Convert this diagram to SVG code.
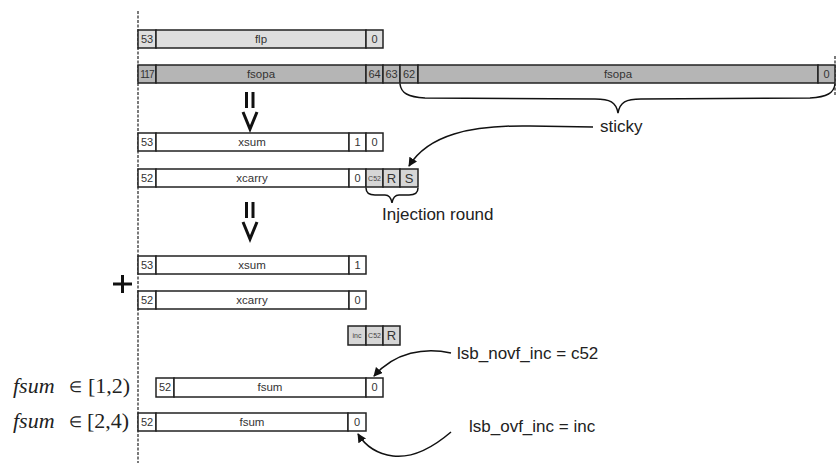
<svg xmlns="http://www.w3.org/2000/svg" width="837" height="463" viewBox="0 0 837 463">
<style>
.c{stroke:#222;stroke-width:1.5}
.w{fill:#fff}
.l{fill:#dedede}
.d{fill:#b5b5b5}
.g{fill:#d6d6d6}
.t{font-family:"Liberation Sans",Arial,sans-serif;font-size:11.5px;fill:#333;text-anchor:middle}
.n{font-family:"Liberation Sans",Arial,sans-serif;font-size:11px;fill:#333;text-anchor:middle}
.s{font-family:"Liberation Sans",Arial,sans-serif;font-size:7px;fill:#444;text-anchor:middle}
.b{font-family:"Liberation Sans",Arial,sans-serif;font-size:13px;fill:#333;text-anchor:middle}
.lab{font-family:"Liberation Sans",Arial,sans-serif;font-size:17px;fill:#222}
.m{font-family:"Liberation Serif","Times New Roman",serif;font-size:22px;fill:#222}
.ln{fill:none;stroke:#111;stroke-width:1.5}
.dash{fill:none;stroke:#333;stroke-width:1.3;stroke-dasharray:3 1.5}
</style>
<defs>
<marker id="ah" viewBox="0 0 10 10" refX="9" refY="5" markerWidth="9" markerHeight="9" markerUnits="userSpaceOnUse" orient="auto">
<path d="M0,0 L10,5 L0,10 z" fill="#111"/>
</marker>
</defs>

<g id="axes">
<line class="dash" x1="138" y1="11" x2="138" y2="463"/>
<line class="dash" x1="835" y1="56" x2="835" y2="95"/>
</g>

<g id="flp">
<rect class="c l" x="138" y="30" width="18" height="18"/>
<rect class="c l" x="156" y="30" width="210" height="18"/>
<rect class="c l" x="366" y="30" width="17" height="18"/>
<text class="n" x="147" y="43">53</text>
<text class="t" x="261" y="43">flp</text>
<text class="n" x="374.5" y="43">0</text>
</g>

<g id="fsopa">
<rect class="c d" x="138" y="65" width="18" height="18"/>
<rect class="c d" x="156" y="65" width="210" height="18"/>
<rect class="c d" x="366" y="65" width="17" height="18"/>
<rect class="c d" x="383" y="65" width="17" height="18"/>
<rect class="c d" x="400" y="65" width="18" height="18"/>
<rect class="c d" x="418" y="65" width="400" height="18"/>
<rect class="c d" x="818" y="65" width="17" height="18"/>
<text class="n" x="147" y="78" style="letter-spacing:-0.8px;font-size:10px">117</text>
<text class="t" x="261" y="78">fsopa</text>
<text class="n" x="374.5" y="78">64</text>
<text class="n" x="391.5" y="78">63</text>
<text class="n" x="409" y="78">62</text>
<text class="t" x="618" y="78">fsopa</text>
<text class="n" x="826.5" y="78">0</text>
</g>

<g id="implies1">
<line x1="246.5" y1="92" x2="246.5" y2="108" stroke="#111" stroke-width="3"/>
<line x1="253" y1="92" x2="253" y2="108" stroke="#111" stroke-width="3"/>
<polyline points="243,112 250,129 257,112" fill="none" stroke="#111" stroke-width="3"/>
</g>

<g id="xsum1">
<rect class="c w" x="138" y="133" width="18" height="18"/>
<rect class="c w" x="156" y="133" width="193" height="18"/>
<rect class="c w" x="349" y="133" width="17" height="18"/>
<rect class="c w" x="366" y="133" width="17" height="18"/>
<text class="n" x="147" y="146">53</text>
<text class="t" x="252" y="146">xsum</text>
<text class="n" x="357.5" y="146">1</text>
<text class="n" x="374.5" y="146">0</text>
</g>

<g id="xcarry1">
<rect class="c w" x="138" y="169" width="18" height="18"/>
<rect class="c w" x="156" y="169" width="193" height="18"/>
<rect class="c w" x="349" y="169" width="17" height="18"/>
<rect class="c g" x="366" y="169" width="17" height="18"/>
<rect class="c g" x="383" y="169" width="17" height="18"/>
<rect class="c g" x="400" y="169" width="18" height="18"/>
<text class="n" x="147" y="182">52</text>
<text class="t" x="252" y="182">xcarry</text>
<text class="n" x="357.5" y="182">0</text>
<text class="s" x="374.5" y="181">C52</text>
<text class="b" x="391.5" y="183">R</text>
<text class="b" x="409" y="183">S</text>
</g>

<g id="implies2">
<line x1="246.5" y1="202" x2="246.5" y2="218" stroke="#111" stroke-width="3"/>
<line x1="253" y1="202" x2="253" y2="218" stroke="#111" stroke-width="3"/>
<polyline points="243,222 250,239 257,222" fill="none" stroke="#111" stroke-width="3"/>
</g>

<g id="plus">
<line x1="113" y1="284" x2="132" y2="284" stroke="#111" stroke-width="3"/>
<line x1="122.5" y1="275" x2="122.5" y2="293" stroke="#111" stroke-width="3"/>
</g>

<g id="xsum2">
<rect class="c w" x="138" y="256" width="18" height="18"/>
<rect class="c w" x="156" y="256" width="193" height="18"/>
<rect class="c w" x="349" y="256" width="17" height="18"/>
<text class="n" x="147" y="269">53</text>
<text class="t" x="252" y="269">xsum</text>
<text class="n" x="357.5" y="269">1</text>
</g>

<g id="xcarry2">
<rect class="c w" x="138" y="291" width="18" height="18"/>
<rect class="c w" x="156" y="291" width="193" height="18"/>
<rect class="c w" x="349" y="291" width="17" height="18"/>
<text class="n" x="147" y="304">52</text>
<text class="t" x="252" y="304">xcarry</text>
<text class="n" x="357.5" y="304">0</text>
</g>

<g id="inc">
<rect class="c g" x="348" y="326" width="18" height="19"/>
<rect class="c g" x="366" y="326" width="17" height="19"/>
<rect class="c g" x="383" y="326" width="17" height="19"/>
<text class="s" x="357" y="338">inc</text>
<text class="s" x="374.5" y="338">C52</text>
<text class="b" x="391.5" y="340">R</text>
</g>

<g id="fsum1">
<rect class="c w" x="156" y="378" width="18" height="19"/>
<rect class="c w" x="174" y="378" width="192" height="19"/>
<rect class="c w" x="366" y="378" width="17" height="19"/>
<text class="n" x="165" y="391">52</text>
<text class="t" x="270" y="391">fsum</text>
<text class="n" x="374.5" y="391">0</text>
</g>

<g id="fsum2">
<rect class="c w" x="138" y="413" width="18" height="18"/>
<rect class="c w" x="156" y="413" width="192" height="18"/>
<rect class="c w" x="348" y="413" width="18" height="18"/>
<text class="n" x="147" y="426">52</text>
<text class="t" x="252" y="426">fsum</text>
<text class="n" x="357" y="426">0</text>
</g>

<g id="range1">
<text class="m" x="13" y="393" font-style="italic">fsum</text>
<text class="m" x="69" y="392" style="font-size:15px">∈</text>
<text class="m" x="88" y="393">[1,2)</text>
</g>
<g id="range2">
<text class="m" x="13" y="428" font-style="italic">fsum</text>
<text class="m" x="69" y="427" style="font-size:15px">∈</text>
<text class="m" x="87" y="428">[2,4)</text>
</g>

<g id="labels">
<text class="lab" x="600" y="132">sticky</text>
<text class="lab" x="382" y="220">Injection round</text>
<text class="lab" x="457" y="359">lsb_novf_inc = c52</text>
<text class="lab" x="469" y="432">lsb_ovf_inc = inc</text>
</g>

<g id="connectors">
<path class="ln" d="M400 84 C401 93 408 97 425 98 L595 99 C610 99 616 102 618 113 C620 102 626 99 641 99 L810 98 C827 97 834 93 835 84"/>
<path class="ln" d="M366 188 C366 193 369 195 375 195 L385 195 C389 195 391 197 392 203 C393 197 395 195 399 195 L409 195 C415 195 418 193 418 188"/>
<path class="ln" d="M593 127 L530 126 C470 125 428 135 409 166" marker-end="url(#ah)"/>
<path class="ln" d="M451 353 C425 347 395 352 374 376" marker-end="url(#ah)"/>
<path class="ln" d="M451 432 C430 450 410 458 393 456 C378 454 366 447 358 434" marker-end="url(#ah)"/>
</g>
</svg>
